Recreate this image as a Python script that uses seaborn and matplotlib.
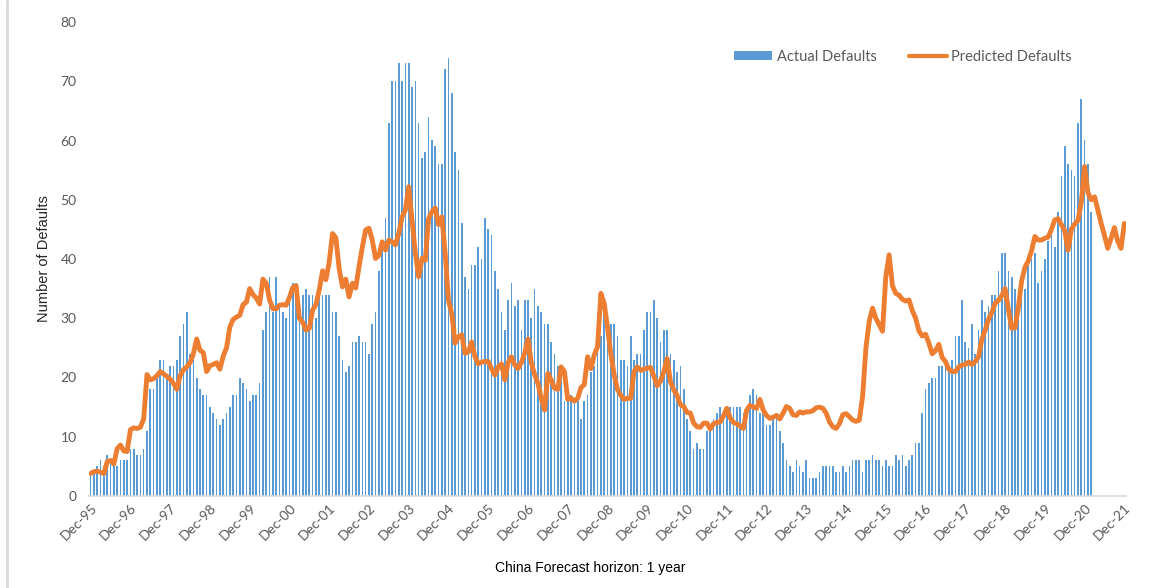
import numpy as np
import pandas as pd
import matplotlib
matplotlib.use("Agg")
import matplotlib.pyplot as plt
import seaborn as sns
from matplotlib.lines import Line2D
from matplotlib.patches import Patch

# ---------------- data (monthly, Dec-95 .. Dec-21) ----------------
tick_labels = ["Dec-95", "Dec-96", "Dec-97", "Dec-98", "Dec-99", "Dec-00", "Dec-01",
               "Dec-02", "Dec-03", "Dec-04", "Dec-05", "Dec-06", "Dec-07", "Dec-08",
               "Dec-09", "Dec-10", "Dec-11", "Dec-12", "Dec-13", "Dec-14", "Dec-15",
               "Dec-16", "Dec-17", "Dec-18", "Dec-19", "Dec-20", "Dec-21"]

actual_defaults = [
    4,
    4, 5, 6, 5, 7, 6, 6, 5, 6, 6, 6, 8,
    8, 7, 7, 8, 11, 18, 18, 20, 23, 23, 20, 22,
    22, 23, 27, 29, 31, 24, 23, 20, 18, 17, 17, 15,
    14, 13, 12, 13, 14, 15, 17, 17, 20, 19, 18, 16,
    17, 17, 19, 28, 31, 37, 31, 37, 32, 31, 30, 34,
    36, 36, 33, 34, 35, 34, 34, 30, 34, 34, 34, 34,
    31, 31, 27, 23, 21, 22, 26, 26, 27, 26, 26, 24,
    29, 31, 38, 43, 47, 63, 70, 70, 73, 70, 73, 73,
    69, 70, 63, 57, 58, 64, 60, 59, 56, 56, 72, 74,
    68, 58, 55, 46, 37, 35, 39, 39, 42, 40, 47, 45,
    44, 38, 35, 31, 28, 33, 36, 32, 33, 28, 33, 33,
    30, 35, 32, 31, 29, 29, 26, 24, 22, 22, 16, 16,
    17, 16, 16, 13, 16, 17, 21, 22, 31, 27, 31, 26,
    29, 29, 27, 23, 23, 22, 27, 23, 24, 24, 28, 31,
    31, 33, 30, 26, 28, 28, 24, 23, 21, 22, 18, 13,
    11, 8, 9, 8, 8, 11, 11, 13, 14, 15, 13, 15,
    15, 15, 15, 15, 14, 13, 17, 18, 17, 14, 15, 12,
    12, 13, 14, 11, 9, 6, 5, 4, 6, 5, 4, 6,
    3, 3, 3, 4, 5, 5, 5, 5, 4, 4, 5, 4,
    5, 6, 6, 6, 4, 6, 6, 7, 6, 6, 5, 6,
    5, 5, 7, 6, 7, 5, 6, 7, 9, 9, 14, 18,
    19, 20, 20, 22, 22, 22, 22, 23, 27, 27, 33, 26,
    25, 29, 24, 28, 33, 31, 32, 34, 34, 38, 41, 41,
    38, 37, 35, 33, 35, 35, 39, 40, 41, 36, 38, 40,
    43, 44, 42, 48, 54, 59, 56, 55, 54, 63, 67, 60,
    56, 48,
]

predicted_defaults = [
    3.8,
    4.1, 4.2, 4.0, 3.8, 5.8, 6.0, 5.4, 8.0, 8.6, 7.6, 7.5, 11.2,
    11.5, 11.4, 11.6, 13.0, 20.5, 19.6, 19.8, 20.3, 21.0, 20.6, 20.2, 19.7,
    19.0, 18.0, 20.3, 21.3, 21.8, 22.5, 24.0, 26.5, 24.6, 24.2, 21.0, 22.0,
    22.2, 22.5, 21.4, 23.6, 25.0, 28.5, 29.8, 30.2, 30.5, 32.3, 32.7, 35.0,
    34.0, 33.4, 32.4, 36.6, 35.9, 33.1, 31.6, 31.6, 32.2, 32.3, 32.2, 33.5,
    35.2, 35.5, 30.0, 29.3, 28.0, 28.3, 31.4, 32.3, 34.8, 38.0, 36.5, 39.5,
    44.3, 43.6, 38.4, 35.3, 36.6, 33.6, 35.9, 35.1, 38.7, 42.0, 44.9, 45.2,
    43.2, 40.1, 40.6, 42.9, 41.5, 43.2, 42.9, 42.4, 44.3, 47.1, 48.3, 52.2,
    46.5, 41.0, 37.0, 40.1, 39.8, 46.8, 48.0, 48.6, 45.8, 47.1, 41.0, 33.0,
    30.8, 25.8, 26.9, 27.2, 24.1, 24.3, 26.0, 23.5, 22.3, 22.6, 22.7, 22.7,
    21.5, 20.4, 21.8, 22.3, 19.6, 22.5, 23.5, 22.1, 21.5, 22.5, 24.1, 26.5,
    22.5, 20.5, 19.0, 16.5, 14.5, 20.7, 19.6, 18.2, 18.0, 21.8, 21.0, 16.3,
    16.5, 16.0, 16.5, 18.3, 18.8, 23.5, 21.5, 23.8, 25.2, 34.2, 32.5, 28.5,
    24.0, 20.5, 18.0, 17.0, 16.3, 16.5, 16.5, 21.0, 21.8, 21.2, 21.4, 21.6,
    21.7, 20.2, 18.6, 19.4, 21.0, 23.2, 19.3, 17.9, 17.0, 15.4, 15.1, 14.1,
    14.0, 12.3, 11.7, 11.6, 12.3, 12.3, 11.3, 12.2, 12.4, 12.5, 13.5, 14.8,
    13.2, 12.4, 12.2, 11.8, 11.4, 14.5, 15.3, 15.0, 14.8, 16.3, 14.5, 13.6,
    13.1, 13.3, 13.6, 13.0, 14.0, 15.1, 14.8, 13.7, 13.6, 14.2, 14.0, 14.2,
    14.2, 14.4, 14.9, 15.0, 14.8, 14.0, 12.5, 11.7, 11.4, 12.2, 13.7, 13.9,
    13.4, 12.8, 12.6, 12.8, 16.8, 25.0, 29.5, 31.7, 30.0, 28.9, 27.8, 37.0,
    40.7, 35.5, 34.2, 33.9, 33.2, 32.9, 33.1, 31.3, 30.0, 27.9, 27.0, 27.3,
    25.8, 24.0, 24.5, 25.6, 23.4, 22.7, 21.4, 21.0, 21.0, 21.8, 22.1, 22.2,
    22.6, 22.2, 22.7, 23.5, 26.5, 28.0, 29.8, 31.0, 32.5, 33.0, 33.8, 35.0,
    31.5, 28.3, 28.4, 31.8, 36.3, 38.6, 39.7, 41.4, 43.8, 43.2, 43.2, 43.5,
    43.7, 45.0, 46.6, 46.8, 45.8, 44.8, 41.5, 45.0, 45.9, 46.5, 49.5, 55.6,
    51.2, 50.0, 50.5, 48.3, 46.0, 44.0, 41.8, 43.5, 45.3, 43.0, 41.8, 46.0,
]

# ---------------- build frames ----------------
df_act = pd.DataFrame({"month": np.arange(len(actual_defaults)),
                       "defaults": actual_defaults})
df_pred = pd.DataFrame({"month": np.arange(len(predicted_defaults)),
                        "defaults": predicted_defaults})

sns.set_theme(style="white")
plt.rcParams["font.family"] = ["Lato", "DejaVu Sans"]

BLUE = "#5B9BD5"
ORANGE = "#ED7D31"
GRAY = "#595959"

fig = plt.figure(figsize=(11.5, 5.88), dpi=100)
ax = fig.add_axes([89 / 1150, 1 - 496 / 588, (1126 - 89) / 1150, (496 - 22) / 588])

sns.barplot(data=df_act, x="month", y="defaults", native_scale=True,
            color=BLUE, saturation=1, width=0.5, linewidth=0, ax=ax)
sns.lineplot(data=df_pred, x="month", y="defaults", color=ORANGE,
             linewidth=3.5, ax=ax)

ax.set_xlim(-0.5, 312.5)
ax.set_ylim(0, 80)
ax.set_yticks(np.arange(0, 81, 10))
ax.set_xticks(np.arange(0, len(tick_labels) * 12, 12))
ax.set_xticklabels(tick_labels, rotation=45, ha="right", rotation_mode="anchor")
ax.tick_params(axis="both", length=0, colors=GRAY, labelsize=10)
ax.tick_params(axis="y", pad=9)
ax.tick_params(axis="x", pad=4)

for s in ["left", "right", "top"]:
    ax.spines[s].set_visible(False)
ax.spines["bottom"].set_color("#D9D9D9")
ax.spines["bottom"].set_linewidth(1.2)

ax.set_ylabel("Number of Defaults", fontsize=10.5, color="#262626", labelpad=7,
              family=["Liberation Sans", "DejaVu Sans"])
ax.set_xlabel("")
fig.text(590 / 1150, 1 - 568 / 588, "China Forecast horizon: 1 year",
         ha="center", va="center", fontsize=10, color="black",
         family=["Liberation Sans", "DejaVu Sans"])

handles = [Patch(facecolor=BLUE, edgecolor="none"),
           Line2D([0], [0], color=ORANGE, linewidth=3)]
leg = ax.legend(handles, ["Actual Defaults", "Predicted Defaults"], ncol=2,
                frameon=False, loc="center", bbox_to_anchor=(903 / 1150, 1 - 57 / 588),
                bbox_transform=fig.transFigure, fontsize=10.5,
                handlelength=2.6, handleheight=0.6, columnspacing=2.2,
                handletextpad=0.3)
for t in leg.get_texts():
    t.set_color(GRAY)

# light frame line on left like the original chart border
fig.add_artist(Line2D([7 / 1150, 7 / 1150], [0, 1], color="#D9D9D9",
                      linewidth=2, transform=fig.transFigure))

fig.savefig("out.png", dpi=100)
